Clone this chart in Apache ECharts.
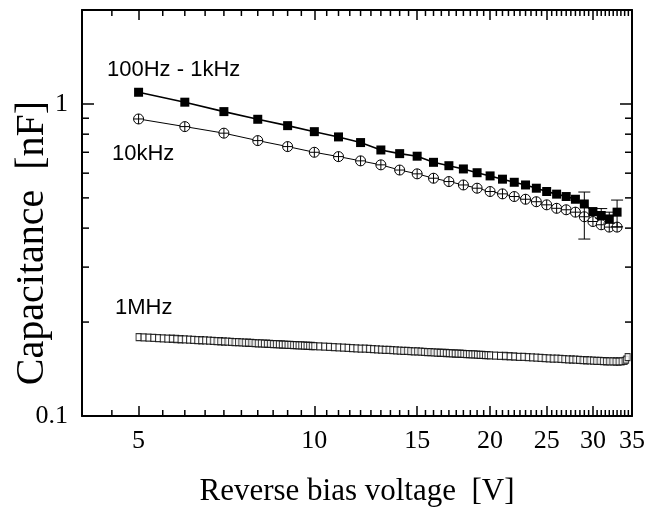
<!DOCTYPE html>
<html><head><meta charset="utf-8">
<script src="https://cdn.jsdelivr.net/npm/echarts@6/dist/echarts.min.js"></script>
<style>html,body{margin:0;padding:0;background:#fff}#c{width:645px;height:508px}</style>
</head><body><div id="c"></div>
<script>
// ---- data ----
const xTickMajor = [5, 10, 15, 20, 25, 30, 35];
const xTickMinor = [4.5, 5.5, 6, 6.5, 7, 7.5, 8, 8.5, 9, 9.5,
  10.5, 11, 11.5, 12, 12.5, 13, 13.5, 14, 14.5,
  15.5, 16, 16.5, 17, 17.5, 18, 18.5, 19, 19.5,
  20.5, 21, 21.5, 22, 22.5, 23, 23.5, 24, 24.5,
  25.5, 26, 26.5, 27, 27.5, 28, 28.5, 29, 29.5,
  30.5, 31, 31.5, 32, 32.5, 33, 33.5, 34, 34.5];
const yTickMajor = [0.1, 1];
const yTickMinor = [0.2, 0.3, 0.4, 0.5, 0.6, 0.7, 0.8, 0.9];

// 100Hz - 1kHz (filled squares)
const lowV = [5,6,7,8,9,10,11,12,13,14,15,16,17,18,19,20,21,22,23,24,25,26,27,28,29,30,31,32,33];
const lowC = [1.090,1.013,0.945,0.893,0.852,0.815,0.784,0.752,0.712,0.693,0.680,0.650,0.634,0.619,0.602,0.588,0.574,0.561,0.550,0.537,0.524,0.514,0.505,0.495,0.478,0.452,0.439,0.428,0.450];

// 10kHz (open circles)
const midV = [5,6,7,8,9,10,11,12,13,14,15,16,17,18,19,20,21,22,23,24,25,26,27,28,29,30,31,32,33];
const midC = [0.895,0.846,0.806,0.763,0.730,0.700,0.678,0.657,0.638,0.614,0.597,0.578,0.564,0.550,0.537,0.524,0.515,0.505,0.495,0.486,0.475,0.463,0.458,0.450,0.435,0.420,0.410,0.403,0.403];

// error bars
const errV  = [29, 31, 32, 33];
const errLo = [0.369, 0.430, 0.415, 0.404];
const errHi = [0.522, 0.462, 0.450, 0.492];

// 1MHz (small open squares)
const highV = [
  5.0,5.1,5.2,5.3,5.4,5.5,5.6,5.7,5.8,5.9,6.0,6.1,6.2,6.3,6.4,6.5,6.6,6.7,6.8,6.9,
  7.0,7.1,7.2,7.3,7.4,7.5,7.6,7.7,7.8,7.9,8.0,8.1,8.2,8.3,8.4,8.5,8.6,8.7,8.8,8.9,
  9.0,9.1,9.2,9.3,9.4,9.5,9.6,9.7,9.8,9.9,10.0,
  10.2,10.4,10.6,10.8,11.0,11.2,11.4,11.6,11.8,12.0,12.2,12.4,12.6,12.8,13.0,13.2,13.4,13.6,13.8,14.0,
  14.2,14.4,14.6,14.8,15.0,15.2,15.4,15.6,15.8,16.0,16.2,16.4,16.6,16.8,17.0,17.2,17.4,17.6,17.8,18.0,
  18.2,18.4,18.6,18.8,19.0,19.2,19.4,19.6,19.8,20.0,
  20.4,20.8,21.2,21.6,22.0,22.4,22.8,23.2,23.6,24.0,24.4,24.8,25.2,25.6,26.0,26.4,26.8,27.2,27.6,28.0,
  28.4,28.8,29.2,29.6,30.0,30.4,30.8,31.2,31.6,32.0,32.4,32.8,33.2,33.6,34.0,34.2,34.4];
const highC = [
  0.1790,0.1787,0.1784,0.1780,0.1777,0.1774,0.1771,0.1768,0.1765,0.1762,0.1759,0.1756,0.1754,0.1751,0.1749,0.1746,0.1743,0.1741,0.1738,0.1736,
  0.1733,0.1731,0.1728,0.1726,0.1724,0.1722,0.1719,0.1717,0.1715,0.1712,0.1710,0.1708,0.1706,0.1704,0.1702,0.1700,0.1699,0.1697,0.1695,0.1693,
  0.1691,0.1689,0.1688,0.1686,0.1684,0.1683,0.1681,0.1679,0.1678,0.1676,0.1674,
  0.1671,0.1668,0.1665,0.1662,0.1659,0.1656,0.1653,0.1651,0.1648,0.1645,0.1643,0.1640,0.1638,0.1635,0.1633,0.1630,0.1628,0.1625,0.1623,0.1620,
  0.1618,0.1616,0.1614,0.1612,0.1610,0.1607,0.1605,0.1603,0.1601,0.1599,0.1597,0.1595,0.1594,0.1592,0.1590,0.1588,0.1586,0.1585,0.1583,0.1581,
  0.1579,0.1578,0.1576,0.1575,0.1573,0.1571,0.1570,0.1568,0.1567,0.1565,
  0.1562,0.1559,0.1557,0.1554,0.1551,0.1548,0.1546,0.1543,0.1541,0.1538,0.1536,0.1533,0.1531,0.1528,0.1526,0.1524,0.1522,0.1519,0.1517,0.1515,
  0.1513,0.1511,0.1509,0.1507,0.1505,0.1503,0.1501,0.1500,0.1498,0.1497,0.1496,0.1495,0.1495,0.1497,0.1503,0.1515,0.1545];

const xLabel = 'Reverse bias voltage  [V]';
const yLabel = 'Capacitance  [nF]';
const seriesNames = ['100Hz - 1kHz', '10kHz', '1MHz'];

// ---- chart ----
const X_MIN = 4, X_MAX = 35, Y_MIN = 0.1, Y_MAX = 2;
const serif = '"Liberation Serif","Times New Roman",serif';
const sans = '"Liberation Sans",Arial,sans-serif';
const chart = echarts.init(document.getElementById('c'), null, {renderer: 'canvas'});

function xAx(pos, showLabel, name) {
  return {
    type: 'log', logBase: 10, min: X_MIN, max: X_MAX, position: pos,
    name: name || '', nameLocation: 'middle', nameGap: 60, nameMoveOverlap: false,
    nameTextStyle: {fontFamily: serif, fontSize: 31, color: '#000'},
    axisLine: {show: true, onZero: false, lineStyle: {color: '#000', width: 2}},
    axisTick: {show: true, inside: true, length: 10, interval: 0, customValues: xTickMajor,
      lineStyle: {color: '#000', width: 1.5}},
    axisLabel: {show: showLabel, interval: 0, customValues: xTickMajor, margin: 12,
      fontFamily: serif, fontSize: 26, color: '#000'},
    splitLine: {show: false}, minorTick: {show: false}
  };
}
function yAx(pos, showLabel, name) {
  return {
    type: 'log', logBase: 10, min: Y_MIN, max: Y_MAX, position: pos,
    name: name || '', nameLocation: 'middle', nameGap: 30, nameRotate: 90, nameMoveOverlap: false,
    nameTextStyle: {fontFamily: serif, fontSize: 40, color: '#000', padding: [0, 60, 0, 0]},
    axisLine: {show: true, onZero: false, lineStyle: {color: '#000', width: 2}},
    axisTick: {show: true, inside: true, length: 12, interval: 0, customValues: yTickMajor,
      lineStyle: {color: '#000', width: 1.5}},
    axisLabel: {show: showLabel, interval: 0, customValues: yTickMajor, margin: 14,
      fontFamily: serif, fontSize: 26, color: '#000'},
    splitLine: {show: false}, minorTick: {show: false}
  };
}

const circlePlus = 'path://M5,0A5,5,0,1,1,5,10A5,5,0,1,1,5,0Z M5,0L5,10 M0,5L10,5';
function tickStyle() { return {stroke: '#000', lineWidth: 1.5}; }

chart.setOption({
  animation: false,
  backgroundColor: '#fff',
  grid: {left: 82, right: 13, top: 10, bottom: 92, outerBoundsMode: 'none', containLabel: false},
  xAxis: [xAx('bottom', true, xLabel), xAx('top', false)],
  yAxis: [yAx('left', true, yLabel), yAx('right', false)],
  series: [
    { // minor x ticks (bottom and top), placed by the axis scale
      type: 'custom', xAxisIndex: 0, yAxisIndex: 0, z: 1, silent: true,
      data: xTickMinor.map(v => [v, Y_MIN]), encode: {x: 0, y: 1},
      renderItem: function (params, api) {
        const b = api.coord([api.value(0), Y_MIN]);
        const t = api.coord([api.value(0), Y_MAX]);
        return {type: 'group', children: [
          {type: 'line', shape: {x1: b[0], y1: b[1], x2: b[0], y2: b[1] - 6}, style: tickStyle()},
          {type: 'line', shape: {x1: t[0], y1: t[1], x2: t[0], y2: t[1] + 6}, style: tickStyle()}
        ]};
      }
    },
    { // minor y ticks (left and right)
      type: 'custom', xAxisIndex: 0, yAxisIndex: 0, z: 1, silent: true,
      data: yTickMinor.map(v => [X_MIN, v]), encode: {x: 0, y: 1},
      renderItem: function (params, api) {
        const l = api.coord([X_MIN, api.value(1)]);
        const r = api.coord([X_MAX, api.value(1)]);
        return {type: 'group', children: [
          {type: 'line', shape: {x1: l[0], y1: l[1], x2: l[0] + 7, y2: l[1]}, style: tickStyle()},
          {type: 'line', shape: {x1: r[0], y1: r[1], x2: r[0] - 7, y2: r[1]}, style: tickStyle()}
        ]};
      }
    },
    {
      name: seriesNames[2], type: 'scatter', xAxisIndex: 0, yAxisIndex: 0,
      symbol: 'rect', symbolSize: [5, 7],
      itemStyle: {color: '#fff', borderColor: '#000', borderWidth: 1.1},
      data: highV.map((v, i) => [v, highC[i]]), z: 3
    },
    {
      name: seriesNames[1], type: 'line', xAxisIndex: 0, yAxisIndex: 0,
      symbol: circlePlus, symbolSize: 10, symbolKeepAspect: true, showAllSymbol: true,
      itemStyle: {color: '#fff', borderColor: '#000', borderWidth: 1},
      lineStyle: {color: '#000', width: 1},
      data: midV.map((v, i) => [v, midC[i]]), z: 4
    },
    {
      name: seriesNames[0], type: 'line', xAxisIndex: 0, yAxisIndex: 0,
      symbol: 'rect', symbolSize: 9, showAllSymbol: true,
      itemStyle: {color: '#000'},
      lineStyle: {color: '#000', width: 1.6},
      data: lowV.map((v, i) => [v, lowC[i]]), z: 5
    },
    {
      type: 'custom', xAxisIndex: 0, yAxisIndex: 0, z: 6,
      data: errV.map((v, i) => [v, errLo[i], errHi[i]]),
      encode: {x: 0, y: [1, 2]},
      renderItem: function (params, api) {
        const v = api.value(0);
        const p1 = api.coord([v, api.value(1)]);
        const p2 = api.coord([v, api.value(2)]);
        const w = 6;
        return {type: 'group', children: [
          {type: 'line', shape: {x1: p1[0], y1: p1[1], x2: p2[0], y2: p2[1]}, style: {stroke: '#000', lineWidth: 1}},
          {type: 'line', shape: {x1: p1[0] - w, y1: p1[1], x2: p1[0] + w, y2: p1[1]}, style: {stroke: '#000', lineWidth: 1}},
          {type: 'line', shape: {x1: p2[0] - w, y1: p2[1], x2: p2[0] + w, y2: p2[1]}, style: {stroke: '#000', lineWidth: 1}}
        ]};
      }
    }
  ],
  graphic: [
    {type: 'text', left: 107, top: 59, style: {text: seriesNames[0], font: '22px ' + sans, fill: '#000'}},
    {type: 'text', left: 112, top: 143, style: {text: seriesNames[1], font: '22px ' + sans, fill: '#000'}},
    {type: 'text', left: 115, top: 297, style: {text: seriesNames[2], font: '22px ' + sans, fill: '#000'}}
  ]
});
</script></body></html>
